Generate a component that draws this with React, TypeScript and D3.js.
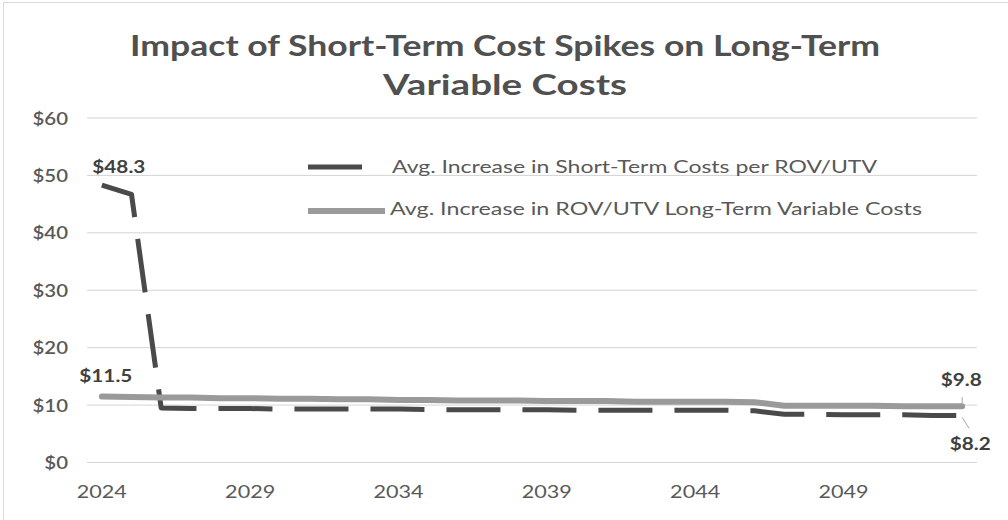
import React from "react";
import * as d3 from "d3";

const years: number[] = [
  2024, 2025, 2026, 2027, 2028, 2029, 2030, 2031, 2032, 2033,
  2034, 2035, 2036, 2037, 2038, 2039, 2040, 2041, 2042, 2043,
  2044, 2045, 2046, 2047, 2048, 2049, 2050, 2051, 2052, 2053,
];
const shortTerm: number[] = [
  48.3, 46.7, 9.5, 9.4, 9.4, 9.4, 9.3, 9.3, 9.3, 9.3,
  9.3, 9.2, 9.2, 9.2, 9.2, 9.2, 9.1, 9.1, 9.1, 9.1,
  9.1, 9.1, 9.0, 8.4, 8.4, 8.3, 8.3, 8.3, 8.2, 8.2,
];
const longTerm: number[] = [
  11.5, 11.4, 11.3, 11.3, 11.2, 11.2, 11.1, 11.1, 11.0, 11.0,
  10.9, 10.9, 10.8, 10.8, 10.8, 10.7, 10.7, 10.7, 10.6, 10.6,
  10.6, 10.6, 10.5, 9.9, 9.9, 9.9, 9.9, 9.8, 9.8, 9.8,
];
const yTicks: number[] = [0, 10, 20, 30, 40, 50, 60];
const xTickYears: number[] = [2024, 2029, 2034, 2039, 2044, 2049];
const seriesNames: string[] = [
  "Avg. Increase in Short-Term Costs per ROV/UTV",
  "Avg. Increase in ROV/UTV Long-Term Variable Costs",
];
const titleLines: string[] = [
  "Impact of Short-Term Cost Spikes on Long-Term",
  "Variable Costs",
];

const W = 1008;
const H = 520;
const SX = 1.2;
const FONT = "Lato, 'Open Sans', sans-serif";

export default function App() {
  React.useEffect(() => {
    document.body.style.margin = "0";
  }, []);

  const x = d3.scaleBand<number>().domain(years).range([87, 977]);
  const cx = (yr: number) => (x(yr) as number) + x.bandwidth() / 2;
  const y = d3.scaleLinear().domain([0, 60]).range([462.5, 118]);

  const line = d3
    .line<number>()
    .x((_, i) => cx(years[i]))
    .y((v) => y(v));

  const n = years.length - 1;
  const labels = [
    { v: shortTerm[0], px: cx(years[0]), py: y(shortTerm[0]), dx: 17, dy: -12 },
    { v: longTerm[0], px: cx(years[0]), py: y(longTerm[0]), dx: 4, dy: -14 },
    { v: longTerm[n], px: cx(years[n]), py: y(longTerm[n]), dx: -1, dy: -20 },
    { v: shortTerm[n], px: cx(years[n]), py: y(shortTerm[n]), dx: 8, dy: 35 },
  ];

  const T = (props: {
    x: number;
    y: number;
    s: string;
    size: number;
    anchor?: string;
    weight?: string | number;
    fill?: string;
    sx?: number;
  }) => (
    <text
      transform={`translate(${props.x},${props.y}) scale(${props.sx ?? SX},1)`}
      textAnchor={props.anchor ?? "start"}
      fontSize={props.size}
      fontWeight={props.weight ?? "normal"}
      fill={props.fill ?? "#595959"}
      fontFamily={FONT}
    >
      {props.s}
    </text>
  );

  return (
    <svg
      width={W}
      height={H}
      style={{ position: "absolute", left: 0, top: 0, background: "#fff" }}
    >
      <rect x={3.5} y={2.5} width={W + 10} height={H + 10} fill="#fff" stroke="#d9d9d9" />

      {/* title */}
      <text
        x={505}
        y={56}
        textAnchor="middle"
        fontSize={29}
        fontWeight="bold"
        fill="#505050"
        fontFamily={FONT}
        textLength={750}
        lengthAdjust="spacingAndGlyphs"
      >
        {titleLines[0]}
      </text>
      <text
        x={505}
        y={95}
        textAnchor="middle"
        fontSize={29}
        fontWeight="bold"
        fill="#505050"
        fontFamily={FONT}
        textLength={244}
        lengthAdjust="spacingAndGlyphs"
      >
        {titleLines[1]}
      </text>

      {/* gridlines */}
      {yTicks.map((t) => (
        <line key={t} x1={87} x2={977} y1={y(t)} y2={y(t)} stroke="#d4d4d4" strokeWidth={1} />
      ))}
      {yTicks.map((t) => (
        <T key={"yl" + t} x={68} y={y(t) + 6.5} s={`$${t}`} size={17} anchor="end" weight={600} />
      ))}
      {xTickYears.map((yr) => (
        <T key={"xl" + yr} x={cx(yr)} y={498} s={`${yr}`} size={18} anchor="middle" />
      ))}

      {/* legend */}
      <line x1={308} x2={362} y1={167} y2={167} stroke="#4a4a4a" strokeWidth={5} />
      <text x={392} y={173} fontSize={17} fill="#595959" fontFamily={FONT} textLength={485} lengthAdjust="spacingAndGlyphs">
        {seriesNames[0]}
      </text>
      <line x1={308} x2={385} y1={211} y2={211} stroke="#9a9a9a" strokeWidth={6} />
      <text x={390} y={215} fontSize={17} fill="#595959" fontFamily={FONT} textLength={532} lengthAdjust="spacingAndGlyphs">
        {seriesNames[1]}
      </text>

      {/* series */}
      <path d={line(shortTerm) || ""} fill="none" stroke="#4a4a4a" strokeWidth={5} strokeDasharray="54 22" strokeLinejoin="round" />
      <path d={line(longTerm) || ""} fill="none" stroke="#9a9a9a" strokeWidth={6} strokeLinejoin="round" strokeLinecap="round" />

      {/* leader lines for end labels */}
      <line x1={labels[2].px} x2={labels[2].px} y1={labels[2].py - 3} y2={labels[2].py - 9} stroke="#a6a6a6" strokeWidth={1} />
      <line x1={labels[3].px} x2={labels[3].px + 7} y1={labels[3].py + 2} y2={labels[3].py + 13} stroke="#a6a6a6" strokeWidth={1} />

      {/* data labels */}
      {labels.map((l, i) => (
        <T
          key={"dl" + i}
          x={l.px + l.dx}
          y={l.py + l.dy}
          s={`$${l.v.toFixed(1)}`}
          size={17}
          anchor="middle"
          weight="bold"
          fill="#404040"
          sx={1.22}
        />
      ))}
    </svg>
  );
}
